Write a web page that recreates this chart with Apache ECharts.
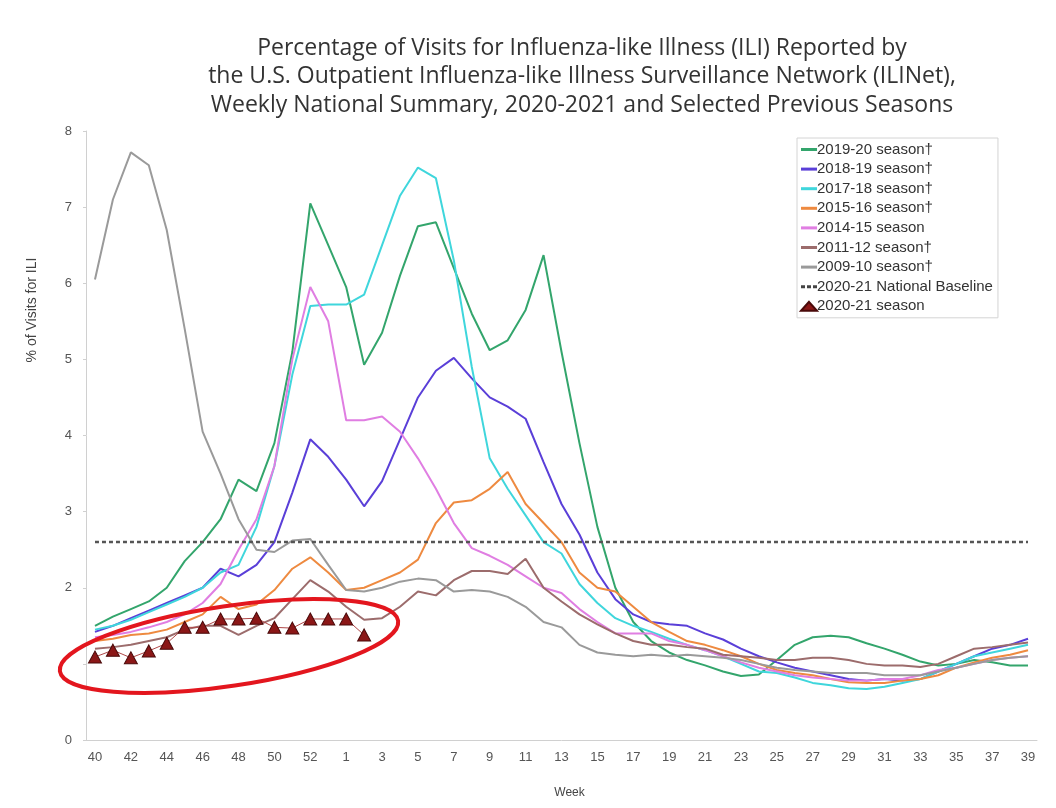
<!DOCTYPE html>
<html>
<head>
<meta charset="utf-8">
<title>ILINet weekly national summary</title>
<script src="https://cdn.jsdelivr.net/npm/echarts@6/dist/echarts.min.js"></script>
<style>
  html, body { margin: 0; padding: 0; background: #fff; }
  #chart { width: 1056px; height: 808px; }
</style>
</head>
<body>
<div id="chart"></div>
<script>
// weeks 40..53, then 1..39
var weeks = ['40','41','42','43','44','45','46','47','48','49','50','51','52','53',
  '1','2','3','4','5','6','7','8','9','10','11','12','13','14','15','16','17','18','19','20',
  '21','22','23','24','25','26','27','28','29','30','31','32','33','34','35','36','37','38','39'];

var s2019 = [1.5,1.62,1.72,1.82,2.0,2.35,2.6,2.9,3.42,3.27,3.9,5.1,7.05,6.5,5.95,4.93,5.35,6.1,6.75,6.8,
  6.2,5.6,5.12,5.25,5.65,6.37,5.1,3.9,2.8,2.0,1.55,1.3,1.15,1.05,0.98,0.9,0.84,0.86,1.05,1.25,
  1.35,1.37,1.35,1.27,1.2,1.12,1.03,0.98,1.0,1.05,1.02,0.98,0.98];
var s2018 = [1.42,1.5,1.6,1.7,1.8,1.9,2.0,2.25,2.15,2.3,2.6,3.25,3.95,3.72,3.42,3.07,3.4,3.95,4.5,4.85,
  5.02,4.75,4.5,4.38,4.22,3.65,3.1,2.7,2.2,1.85,1.65,1.55,1.52,1.5,1.4,1.32,1.2,1.1,1.02,0.95,
  0.9,0.85,0.8,0.78,0.8,0.78,0.8,0.9,1.0,1.1,1.2,1.25,1.33];
var s2017 = [1.45,1.5,1.58,1.68,1.78,1.88,2.0,2.2,2.3,2.8,3.6,4.8,5.7,5.72,5.72,5.85,6.5,7.15,7.52,7.38,
  6.3,4.9,3.7,3.3,2.95,2.6,2.45,2.05,1.8,1.6,1.5,1.42,1.33,1.25,1.18,1.1,1.0,0.9,0.88,0.82,
  0.75,0.72,0.68,0.67,0.7,0.75,0.8,0.9,1.0,1.1,1.15,1.2,1.25];
var s2015 = [1.3,1.33,1.38,1.4,1.45,1.55,1.65,1.88,1.72,1.78,1.97,2.25,2.4,2.2,1.97,2.0,2.1,2.2,2.37,2.85,
  3.12,3.15,3.3,3.52,3.1,2.85,2.6,2.2,2.0,1.95,1.75,1.55,1.42,1.3,1.25,1.18,1.1,1.0,0.92,0.88,
  0.85,0.8,0.76,0.75,0.75,0.78,0.8,0.85,0.95,1.02,1.08,1.12,1.18];
var s2014 = [1.35,1.38,1.42,1.48,1.55,1.65,1.8,2.05,2.5,2.9,3.6,5.0,5.95,5.5,4.2,4.2,4.25,4.05,3.7,3.3,
  2.85,2.52,2.42,2.3,2.15,2.0,1.93,1.72,1.55,1.4,1.4,1.4,1.3,1.25,1.18,1.1,1.02,0.95,0.9,0.85,
  0.82,0.8,0.78,0.78,0.8,0.8,0.85,0.92,0.95,1.0,1.05,1.08,1.1];
var s2011 = [1.2,1.22,1.25,1.3,1.35,1.45,1.5,1.5,1.38,1.5,1.6,1.85,2.1,1.95,1.75,1.58,1.6,1.75,1.95,1.9,
  2.1,2.22,2.22,2.18,2.38,2.0,1.82,1.65,1.52,1.4,1.3,1.25,1.25,1.22,1.2,1.12,1.1,1.08,1.05,1.05,
  1.08,1.08,1.05,1.0,0.98,0.98,0.96,1.0,1.1,1.2,1.22,1.25,1.28];
var s2009 = [6.05,7.1,7.72,7.55,6.7,5.4,4.05,3.5,2.9,2.5,2.47,2.62,2.64,2.3,1.97,1.95,2.0,2.08,2.12,2.1,
  1.95,1.97,1.95,1.88,1.75,1.55,1.48,1.25,1.15,1.12,1.1,1.12,1.1,1.12,1.1,1.08,1.05,1.0,0.95,0.92,
  0.9,0.88,0.88,0.88,0.85,0.85,0.85,0.9,0.95,1.0,1.05,1.08,1.1];
var s2020 = [1.09,1.18,1.08,1.17,1.27,1.48,1.48,1.59,1.59,1.6,1.48,1.47,1.59,1.59,1.59,1.38];
var baseline = 2.6;

var lineSeries = [
  { name: '2019-20 season†', data: s2019, color: '#33a56c' },
  { name: '2018-19 season†', data: s2018, color: '#5a3fd8' },
  { name: '2017-18 season†', data: s2017, color: '#3fd6dc' },
  { name: '2015-16 season†', data: s2015, color: '#ee8a40' },
  { name: '2014-15 season', data: s2014, color: '#e07ee2' },
  { name: '2011-12 season†', data: s2011, color: '#9c6c6c' },
  { name: '2009-10 season†', data: s2009, color: '#9a9a9a' }
];

var lineIcon = 'path://M0,0H16V3H0Z';
var dashIcon = 'path://M0,0H4V3H0Z M6,0H10V3H6Z M12,0H16V3H12Z';

var series = lineSeries.map(function (s) {
  return {
    name: s.name, type: 'line', data: s.data, symbol: 'none',
    lineStyle: { width: 2, color: s.color }, itemStyle: { color: s.color }
  };
});
series.push({
  name: '2020-21 National Baseline', type: 'line', symbol: 'none',
  data: weeks.map(function () { return baseline; }),
  lineStyle: { width: 2.5, color: '#555', type: [4, 3] }, itemStyle: { color: '#444' }
});
series.push({
  name: '2020-21 season', type: 'line', data: s2020,
  symbol: 'triangle', symbolSize: [13, 12], showAllSymbol: true,
  lineStyle: { width: 1, color: '#b04848' },
  itemStyle: { color: '#8b1717', borderColor: '#4a0a0a', borderWidth: 1 },
  z: 5
});

var legendData = series.map(function (s) {
  var icon = lineIcon;
  if (s.name === '2020-21 National Baseline') icon = dashIcon;
  if (s.name === '2020-21 season') icon = 'triangle';
  return { name: s.name, icon: icon };
});

var chart = echarts.init(document.getElementById('chart'));
chart.setOption({
  animation: false,
  backgroundColor: '#fff',
  title: {
    text: 'Percentage of Visits for Influenza-like Illness (ILI) Reported by\nthe U.S. Outpatient Influenza-like Illness Surveillance Network (ILINet),\nWeekly National Summary, 2020-2021 and Selected Previous Seasons',
    left: 577, top: 29, textAlign: 'center',
    textStyle: { fontFamily: 'Open Sans', fontSize: 23, fontWeight: 'normal', color: '#333', lineHeight: 28.5 }
  },
  legend: {
    orient: 'vertical', left: 797, top: 138,
    backgroundColor: '#fff', borderColor: '#d4d4d4', borderWidth: 1,
    padding: [4, 5, 4, 3],
    itemWidth: 16, itemHeight: 9, itemGap: 4.6,
    textStyle: { fontFamily: 'Liberation Sans', fontSize: 15, color: '#333', padding: [0, 0, 0, -5] },
    data: legendData
  },
  grid: { left: 86, right: 19, top: 131, bottom: 68 },
  xAxis: {
    type: 'category', data: weeks, boundaryGap: true,
    name: 'Week', nameLocation: 'middle', nameGap: 47,
    nameTextStyle: { fontFamily: 'Liberation Sans', fontSize: 12, color: '#444', padding: [0, 0, 0, 16] },
    axisLine: { lineStyle: { color: '#d0d0d0' } },
    axisTick: { interval: 0, length: 3, lineStyle: { color: '#d0d0d0' } },
    axisLabel: { interval: 1, margin: 11, fontFamily: 'Liberation Sans', fontSize: 13, color: '#555' }
  },
  yAxis: {
    type: 'value', min: 0, max: 8, interval: 1,
    splitLine: { show: false },
    axisLine: { show: true, lineStyle: { color: '#d0d0d0' } },
    axisTick: { show: true, length: 3, lineStyle: { color: '#d0d0d0' } },
    axisLabel: {
      margin: 14, fontFamily: 'Liberation Sans', fontSize: 13, color: '#555',
      formatter: function (v) { return v === 1 ? '' : v; }
    }
  },
  graphic: [
    {
      type: 'text', x: 32, y: 310, rotation: Math.PI / 2,
      style: { text: '% of Visits for ILI', font: '14px "Liberation Sans"', fill: '#444', align: 'center', verticalAlign: 'middle' }
    },
    {
      // red ring drawn round the 2020-21 points
      type: 'ellipse', x: 229, y: 646, rotation: 8.5 * Math.PI / 180, z: 10,
      shape: { cx: 0, cy: 0, rx: 171, ry: 40 },
      style: { fill: 'none', stroke: '#e3161e', lineWidth: 4 }
    }
  ],
  series: series
});
</script>
</body>
</html>
